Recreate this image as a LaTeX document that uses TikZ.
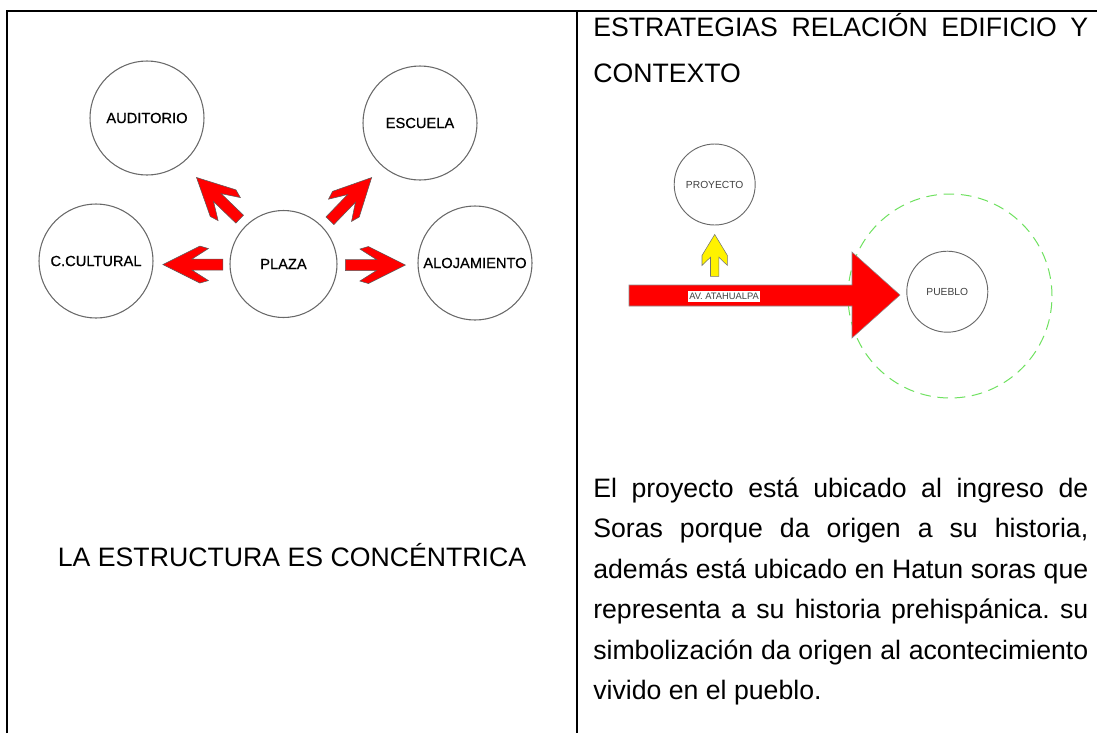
\documentclass[tikz,border=0pt]{standalone}
\usepackage{fontspec}
\setmainfont{Liberation Sans}
\newfontfamily\roomfont[FakeBold=0.6]{Liberation Sans}
\usetikzlibrary{calc}

\definecolor{dashgreen}{RGB}{110,225,95}
\definecolor{ringgray}{RGB}{105,105,105}

\tikzset{
  cell/.style={line width=1.3pt, black},
  room/.style={circle, draw=ringgray, line width=0.8pt, minimum size=85.5pt, inner sep=0pt,
    font=\roomfont\fontsize{11}{13}\selectfont},
  site/.style={circle, draw=ringgray, line width=0.7pt, minimum size=60.75pt, inner sep=0pt,
    font=\fontsize{7.7}{9}\selectfont, text=black!75},
  redarrow/.pic={
    \filldraw[fill=red, draw=black!65, line width=0.4pt]
      (30,0) -- (-7,18.5) -- (-15.5,16) -- (1,5.5) -- (-30,5.5) -- (-30,-5.5)
      -- (1,-5.5) -- (-15.5,-16) -- (-7,-18.5) -- cycle;
  },
  yellowarrow/.pic={
    \filldraw[fill=yellow, draw=black!55, line width=0.4pt]
      (0,21) -- (-12.7,0) -- (-12.7,-10) -- (-4.2,-1.7) -- (-4.2,-21) -- (4.2,-21)
      -- (4.2,-1.7) -- (12.7,-10) -- (12.7,0) -- cycle;
  },
}

\begin{document}
\begin{tikzpicture}[x=0.75pt,y=0.75pt]
\useasboundingbox (0,0) rectangle (1097,-733);

% table lines
\draw[cell] (7.3,-733) -- (7.3,-11) -- (1097,-11);
\draw[cell] (577,-11) -- (577,-733);

% left cell: programme
\node[room] (aud) at (147,-118) {AUDITORIO};
\node[room] (esc) at (420,-123) {ESCUELA};
\node[room] (ccult) at (96,-261) {C.CULTURAL};
\node[room, minimum size=80.25pt] (plaza) at (283.5,-264) {PLAZA};
\node[room] (aloj) at (475,-263) {ALOJAMIENTO};

\pic[rotate=180] at ($(plaza)!0.483!(ccult)+(0,-2)$) {redarrow};
\pic at ($(plaza)!0.48!(aloj)+(0,-1.5)$) {redarrow};
\pic[rotate=136] at ($(plaza)!0.45!(aud)+(-4,0)$) {redarrow};
\pic[rotate=46] at ($(plaza)!0.46!(esc)+(4.5,0)$) {redarrow};

\node[anchor=base, inner sep=0pt, font=\fontsize{20}{24}\selectfont] (lema) at (292,-566)
  {LA ESTRUCTURA ES CONCÉNTRICA};

% right cell: building and context
\node[anchor=base west, inner sep=0pt] (titulo) at (593,-36)
  {\parbox[t]{371.25pt}{\fontsize{20}{35}\selectfont\frenchspacing
   ESTRATEGIAS RELACIÓN EDIFICIO Y\linebreak CONTEXTO}};

\draw[dashgreen, line width=0.75pt, dash pattern=on 8pt off 5pt] (950,-296) circle[radius=102];

\node[site] (proyecto) at (714.7,-184.5) {PROYECTO};
\node[site] (pueblo) at (947.3,-291.7) {PUEBLO};

\pic at ($(proyecto.south)+(0,-30)$) {yellowarrow};

\filldraw[fill=red, draw=black!45, line width=0.4pt]
  (629,-285) -- (852,-285) -- (852,-252) -- (900,-295) -- (852,-338) -- (852,-306) -- (629,-306) -- cycle;
\node[fill=white, inner xsep=1pt, inner ysep=2pt, font=\fontsize{7}{8}\selectfont, text=black!75]
  (avenida) at (724,-296.5) {AV. ATAHUALPA};

\node[anchor=base west, inner sep=0pt] (texto) at (593,-497)
  {\parbox[t]{371.25pt}{\fontsize{20}{30.4}\selectfont\frenchspacing
   El proyecto está ubicado al ingreso de\linebreak
   Soras porque da origen a su historia,\linebreak
   además está ubicado en Hatun soras que\linebreak
   representa a su historia prehispánica. su\linebreak
   simbolización da origen al acontecimiento\linebreak
   vivido en el pueblo.}};
\end{tikzpicture}
\end{document}
